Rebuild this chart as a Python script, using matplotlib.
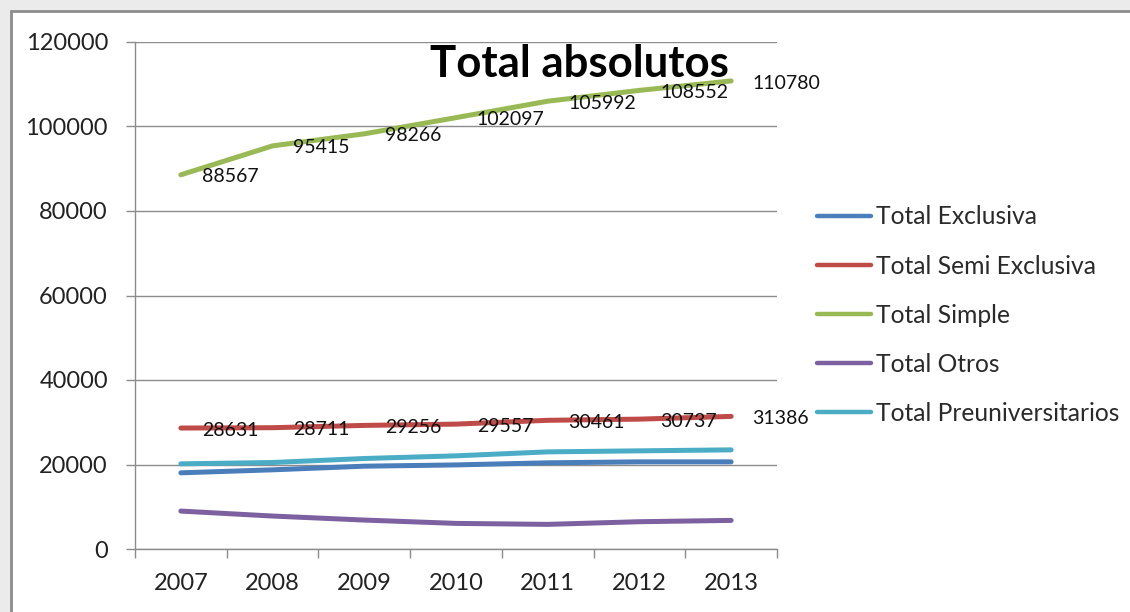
import matplotlib
matplotlib.use("Agg")
import matplotlib.pyplot as plt
from matplotlib.patches import Rectangle
from matplotlib.ticker import FixedLocator, NullFormatter

plt.rcParams['font.family'] = ['Lato', 'DejaVu Sans']

years = ["2007", "2008", "2009", "2010", "2011", "2012", "2013"]
exclusiva = [18030, 18740, 19600, 19900, 20400, 20630, 20630]
semi_exclusiva = [28631, 28711, 29256, 29557, 30461, 30737, 31386]
simple = [88567, 95415, 98266, 102097, 105992, 108552, 110780]
otros = [8976, 7800, 6850, 6060, 5830, 6460, 6770]
preuniversitarios = [20157, 20470, 21420, 22050, 22990, 23230, 23465]

series_names = ["Total Exclusiva", "Total Semi Exclusiva", "Total Simple",
                "Total Otros", "Total Preuniversitarios"]
series_values = [exclusiva, semi_exclusiva, simple, otros, preuniversitarios]
series_colors = ["#4A7EBB", "#BE4B48", "#98B954", "#7D60A0", "#4BACC6"]
labeled = ["Total Semi Exclusiva", "Total Simple"]

W, H = 1130, 612
fig = plt.figure(figsize=(W / 100, H / 100), dpi=100)
fig.patch.set_facecolor("#EBEBEB")
bg = Rectangle((11 / W, -0.05), 1.1, 1 - 11 / H + 0.05,
               transform=fig.transFigure, facecolor="white",
               edgecolor="#8C8C8C", linewidth=2, zorder=-10)
fig.patches.append(bg)

ax = fig.add_axes([135 / W, 1 - 549 / H, (777 - 135) / W, (549 - 42) / H])
ax.set_facecolor("none")
ax.set_zorder(1)

x = list(range(len(years)))
for name, vals, col in zip(series_names, series_values, series_colors):
    ax.plot(x, vals, color=col, linewidth=3.6, solid_capstyle="round",
            solid_joinstyle="round", label=name, zorder=3)
    if name in labeled:
        for xi, v in zip(x, vals):
            ax.annotate(f"{v}", (xi, v), xytext=(15, -1.5), textcoords="offset points",
                        ha="left", va="center", fontsize=14, color="#111111",
                        zorder=4)

ax.set_ylim(0, 120000)
ax.set_xlim(-0.5, len(years) - 0.5)
ax.set_yticks(range(0, 120001, 20000))
ax.yaxis.set_major_formatter(matplotlib.ticker.FuncFormatter(lambda v, p: f"{int(v)}"))
ax.grid(axis="y", color="#8C8C8C", linewidth=1.0)
ax.set_axisbelow(True)

ax.xaxis.set_major_locator(FixedLocator([i - 0.5 for i in range(len(years) + 1)]))
ax.xaxis.set_major_formatter(NullFormatter())
ax.xaxis.set_minor_locator(FixedLocator(x))
ax.set_xticklabels(years, minor=True)
ax.tick_params(axis="x", which="major", length=6.5, width=1.0, color="#8C8C8C", direction="out")
ax.tick_params(axis="x", which="minor", length=0, pad=17.5, labelsize=17, labelcolor="#222222")
ax.tick_params(axis="y", length=6.5, width=1.0, color="#8C8C8C", direction="out",
               pad=13, labelsize=17, labelcolor="#222222")

for s in ["top", "right"]:
    ax.spines[s].set_visible(False)
for s in ["left", "bottom"]:
    ax.spines[s].set_color("#8C8C8C")
    ax.spines[s].set_linewidth(1.0)

fontsize_leg = 17.7
leg = ax.legend(loc="upper left", bbox_to_anchor=(817 / W, 1 - 205.5 / H),
                bbox_transform=fig.transFigure, frameon=False,
                fontsize=fontsize_leg, handlelength=2.2, handletextpad=0.2,
                labelspacing=1.06, borderpad=0, borderaxespad=0)
for line in leg.get_lines():
    line.set_linewidth(3.2)
    line.set_solid_capstyle("round")
for t in leg.get_texts():
    t.set_color("#2A2A2A")

fig.text(579 / W, 1 - 64 / H, "Total absolutos", ha="center", va="center",
         fontsize=31.5, fontweight="bold", color="black", zorder=5)

fig.savefig("out.png", dpi=100, facecolor=fig.get_facecolor())
